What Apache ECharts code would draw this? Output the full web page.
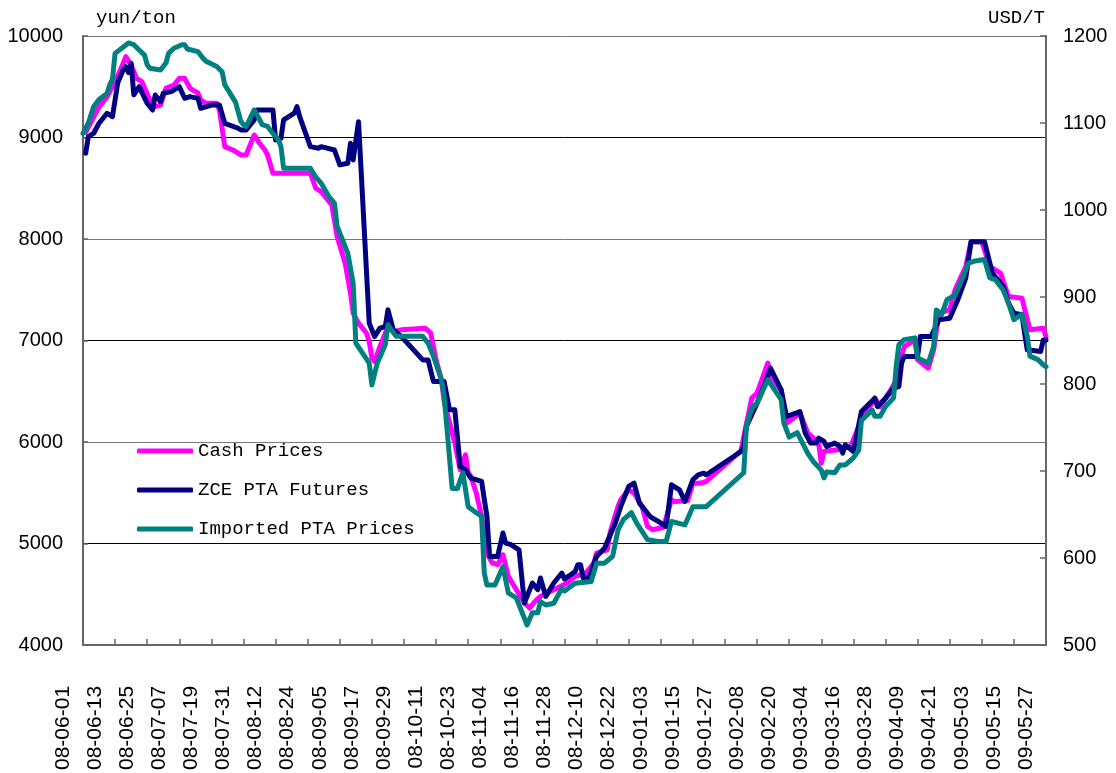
<!DOCTYPE html>
<html>
<head>
<meta charset="utf-8">
<title>PTA prices</title>
<script src="https://cdn.jsdelivr.net/npm/echarts@6/dist/echarts.min.js"></script>
<style>
  html, body { margin: 0; padding: 0; background: #fff; }
  #main { width: 1116px; height: 773px; }
</style>
</head>
<body>
<div id="main"></div>
<script>
// PTA cash / futures / imported prices, 2008-06 .. 2009-05
var dom = document.getElementById("main");
var myChart = echarts.init(dom);

// every calendar day on the axis, labelled yy-mm-dd
var firstDay = Date.UTC(2008, 5, 1);
var dayCount = 361;
var categories = [];
for (var i = 0; i < dayCount; i++) {
    var t = new Date(firstDay + i * 86400000);
    var mm = ('0' + (t.getUTCMonth() + 1)).slice(-2);
    var dd = ('0' + t.getUTCDate()).slice(-2);
    categories.push(String(t.getUTCFullYear()).slice(-2) + '-' + mm + '-' + dd);
}

var seriesNames = ['Cash Prices', 'ZCE PTA Futures', 'Imported PTA Prices'];

// yuan/ton
var cashPrices = [
    ['08-06-02', 9050], ['08-06-05', 9200], ['08-06-07', 9300], ['08-06-10', 9400],
    ['08-06-13', 9550], ['08-06-16', 9730], ['08-06-17', 9796], ['08-06-19', 9714],
    ['08-06-21', 9583], ['08-06-23', 9550], ['08-06-26', 9370], ['08-06-28', 9304],
    ['08-06-30', 9320], ['08-07-02', 9485], ['08-07-05', 9517], ['08-07-07', 9583],
    ['08-07-09', 9583], ['08-07-11', 9485], ['08-07-14', 9436], ['08-07-15', 9370],
    ['08-07-17', 9337], ['08-07-21', 9337], ['08-07-22', 9271], ['08-07-24', 8910],
    ['08-07-27', 8877], ['08-07-30', 8828], ['08-08-01', 8828], ['08-08-04', 9025],
    ['08-08-06', 8943], ['08-08-08', 8877], ['08-08-09', 8828], ['08-08-11', 8648],
    ['08-08-25', 8648], ['08-08-27', 8500], ['08-08-29', 8467], ['08-09-02', 8336],
    ['08-09-04', 8024], ['08-09-07', 7762], ['08-09-09', 7466], ['08-09-10', 7269],
    ['08-09-12', 7171], ['08-09-15', 7072], ['08-09-16', 6990], ['08-09-17', 6826],
    ['08-09-18', 6793], ['08-09-20', 6940], ['08-09-23', 7137], ['08-09-25', 7088],
    ['08-09-28', 7105], ['08-10-07', 7121], ['08-10-09', 7072], ['08-10-11', 6809],
    ['08-10-13', 6612], ['08-10-14', 6400], ['08-10-18', 5989], ['08-10-20', 5726],
    ['08-10-22', 5874], ['08-10-23', 5694], ['08-10-24', 5660], ['08-10-26', 5497],
    ['08-10-28', 5266], ['08-10-30', 4906], ['08-11-01', 4808], ['08-11-03', 4791],
    ['08-11-05', 4889], ['08-11-07', 4676], ['08-11-10', 4545], ['08-11-13', 4414],
    ['08-11-15', 4364], ['08-11-17', 4430], ['08-11-19', 4479], ['08-11-24', 4545],
    ['08-11-29', 4611], ['08-12-02', 4676], ['08-12-04', 4692], ['08-12-06', 4709],
    ['08-12-09', 4808], ['08-12-10', 4906], ['08-12-14', 4938], ['08-12-15', 5103],
    ['08-12-18', 5365], ['08-12-19', 5431], ['08-12-22', 5529], ['08-12-24', 5497],
    ['08-12-27', 5365], ['08-12-29', 5168], ['08-12-31', 5135], ['09-01-04', 5160],
    ['09-01-07', 5431], ['09-01-08', 5414], ['09-01-13', 5420], ['09-01-15', 5590],
    ['09-01-18', 5595], ['09-01-20', 5611], ['09-02-02', 5915], ['09-02-04', 6180],
    ['09-02-06', 6432], ['09-02-08', 6481], ['09-02-12', 6777], ['09-02-14', 6612],
    ['09-02-17', 6514], ['09-02-18', 6317], ['09-02-19', 6186], ['09-02-24', 6284],
    ['09-02-27', 6087], ['09-03-03', 5989], ['09-03-04', 5792], ['09-03-05', 5906],
    ['09-03-10', 5923], ['09-03-15', 5956], ['09-03-16', 6022], ['09-03-19', 6218],
    ['09-03-23', 6383], ['09-03-24', 6432], ['09-03-26', 6349], ['09-03-30', 6514],
    ['09-04-01', 6612], ['09-04-03', 6842], ['09-04-04', 6940], ['09-04-08', 7006],
    ['09-04-09', 6809], ['09-04-13', 6727], ['09-04-15', 6908], ['09-04-17', 7269],
    ['09-04-21', 7302], ['09-04-23', 7499], ['09-04-27', 7728], ['09-04-29', 7974],
    ['09-05-03', 7974], ['09-05-06', 7728], ['09-05-10', 7663], ['09-05-13', 7433],
    ['09-05-18', 7417], ['09-05-21', 7105], ['09-05-26', 7121], ['09-05-27', 7039]
];

// yuan/ton
var zceFutures = [
    ['08-06-02', 8845], ['08-06-03', 9008], ['08-06-05', 9042], ['08-06-07', 9140],
    ['08-06-10', 9239], ['08-06-12', 9205], ['08-06-13', 9370], ['08-06-14', 9540],
    ['08-06-16', 9665], ['08-06-17', 9698], ['08-06-18', 9640], ['08-06-19', 9731],
    ['08-06-20', 9420], ['08-06-22', 9500], ['08-06-25', 9337], ['08-06-27', 9271],
    ['08-06-28', 9419], ['08-06-30', 9353], ['08-07-01', 9436], ['08-07-04', 9452],
    ['08-07-07', 9501], ['08-07-09', 9386], ['08-07-11', 9403], ['08-07-14', 9386],
    ['08-07-15', 9288], ['08-07-19', 9320], ['08-07-22', 9320], ['08-07-24', 9140],
    ['08-07-29', 9091], ['08-07-30', 9074], ['08-08-01', 9074], ['08-08-04', 9173],
    ['08-08-05', 9271], ['08-08-11', 9271], ['08-08-12', 8976], ['08-08-14', 8992],
    ['08-08-15', 9173], ['08-08-19', 9239], ['08-08-20', 9304], ['08-08-21', 9205],
    ['08-08-25', 8910], ['08-08-28', 8894], ['08-08-29', 8910], ['08-09-03', 8877],
    ['08-09-05', 8730], ['08-09-08', 8746], ['08-09-09', 8943], ['08-09-10', 8779],
    ['08-09-12', 9156], ['08-09-16', 7171], ['08-09-18', 7039], ['08-09-20', 7121],
    ['08-09-22', 7137], ['08-09-23', 7302], ['08-09-25', 7105], ['08-09-28', 7039],
    ['08-10-06', 6809], ['08-10-08', 6809], ['08-10-10', 6596], ['08-10-14', 6596],
    ['08-10-16', 6317], ['08-10-18', 6317], ['08-10-20', 5759], ['08-10-22', 5726],
    ['08-10-24', 5644], ['08-10-28', 5611], ['08-10-30', 5266], ['08-10-31', 4873],
    ['08-11-03', 4873], ['08-11-05', 5103], ['08-11-06', 5004], ['08-11-08', 4988],
    ['08-11-11', 4938], ['08-11-13', 4414], ['08-11-16', 4611], ['08-11-18', 4545],
    ['08-11-19', 4660], ['08-11-21', 4479], ['08-11-24', 4611], ['08-11-27', 4709],
    ['08-11-28', 4650], ['08-12-02', 4725], ['08-12-03', 4791], ['08-12-04', 4791],
    ['08-12-05', 4660], ['08-12-07', 4660], ['08-12-10', 4873], ['08-12-13', 4955],
    ['08-12-17', 5201], ['08-12-19', 5365], ['08-12-22', 5562], ['08-12-24', 5595],
    ['08-12-26', 5398], ['08-12-30', 5266], ['09-01-02', 5217], ['09-01-05', 5168],
    ['09-01-07', 5578], ['09-01-10', 5529], ['09-01-12', 5414], ['09-01-15', 5630],
    ['09-01-17', 5677], ['09-01-19', 5693], ['09-01-20', 5677], ['09-02-02', 5906],
    ['09-02-03', 5956], ['09-02-04', 6153], ['09-02-08', 6383], ['09-02-11', 6580],
    ['09-02-13', 6728], ['09-02-17', 6514], ['09-02-19', 6251], ['09-02-24', 6300],
    ['09-02-26', 6087], ['09-02-28', 5989], ['09-03-02', 5989], ['09-03-03', 6038],
    ['09-03-05', 6005], ['09-03-06', 5956], ['09-03-09', 5989], ['09-03-11', 5956],
    ['09-03-12', 5891], ['09-03-13', 5972], ['09-03-16', 5906], ['09-03-19', 6300],
    ['09-03-24', 6432], ['09-03-25', 6349], ['09-03-28', 6432], ['09-03-31', 6531],
    ['09-04-02', 6546], ['09-04-03', 6777], ['09-04-04', 6842], ['09-04-09', 6842],
    ['09-04-10', 7039], ['09-04-14', 7039], ['09-04-17', 7203], ['09-04-21', 7220],
    ['09-04-24', 7400], ['09-04-27', 7614], ['09-04-29', 7974], ['09-05-04', 7974],
    ['09-05-06', 7762], ['09-05-07', 7663], ['09-05-11', 7531], ['09-05-13', 7368],
    ['09-05-15', 7269], ['09-05-18', 7253], ['09-05-19', 7072], ['09-05-20', 6908],
    ['09-05-25', 6891], ['09-05-26', 7006], ['09-05-27', 7006]
];

// USD/T (right axis)
var importedPrices = [
    ['08-06-01', 1088], ['08-06-03', 1100], ['08-06-05', 1119], ['08-06-07', 1127],
    ['08-06-10', 1134], ['08-06-11', 1144], ['08-06-12', 1150], ['08-06-13', 1180],
    ['08-06-18', 1192], ['08-06-20', 1190], ['08-06-22', 1184], ['08-06-24', 1178],
    ['08-06-25', 1167], ['08-06-26', 1163], ['08-06-30', 1161], ['08-07-02', 1169],
    ['08-07-03', 1180], ['08-07-05', 1186], ['08-07-08', 1190], ['08-07-09', 1190],
    ['08-07-10', 1185], ['08-07-14', 1182], ['08-07-16', 1174], ['08-07-17', 1171],
    ['08-07-21', 1165], ['08-07-23', 1159], ['08-07-24', 1144], ['08-07-26', 1134],
    ['08-07-28', 1124], ['08-07-30', 1102], ['08-07-31', 1098], ['08-08-01', 1096],
    ['08-08-04', 1115], ['08-08-06', 1104], ['08-08-07', 1098], ['08-08-09', 1096],
    ['08-08-11', 1088], ['08-08-13', 1081], ['08-08-14', 1073], ['08-08-15', 1048],
    ['08-08-25', 1048], ['08-08-27', 1038], ['08-08-29', 1031], ['08-09-01', 1015],
    ['08-09-03', 1008], ['08-09-04', 981], ['08-09-06', 966], ['08-09-08', 950],
    ['08-09-10', 916], ['08-09-11', 847], ['08-09-16', 824], ['08-09-17', 799],
    ['08-09-19', 824], ['08-09-22', 845], ['08-09-23', 868], ['08-09-26', 855],
    ['08-10-06', 855], ['08-10-08', 847], ['08-10-10', 832], ['08-10-13', 805],
    ['08-10-14', 786], ['08-10-15', 751], ['08-10-17', 680], ['08-10-19', 680],
    ['08-10-21', 698], ['08-10-23', 659], ['08-10-26', 652], ['08-10-28', 648],
    ['08-10-29', 583], ['08-10-30', 569], ['08-11-02', 569], ['08-11-05', 590],
    ['08-11-07', 560], ['08-11-10', 554], ['08-11-14', 523], ['08-11-16', 537],
    ['08-11-18', 537], ['08-11-19', 550], ['08-11-21', 546], ['08-11-24', 548],
    ['08-11-27', 565], ['08-11-28', 562], ['08-12-02', 571], ['08-12-08', 573],
    ['08-12-10', 594], ['08-12-13', 594], ['08-12-16', 602], ['08-12-18', 632],
    ['08-12-20', 644], ['08-12-23', 652], ['08-12-25', 640], ['08-12-29', 621],
    ['09-01-02', 619], ['09-01-05', 619], ['09-01-07', 642], ['09-01-12', 638],
    ['09-01-15', 659], ['09-01-20', 659], ['09-02-03', 698], ['09-02-04', 751],
    ['09-02-06', 772], ['09-02-08', 778], ['09-02-12', 805], ['09-02-17', 782],
    ['09-02-18', 755], ['09-02-20', 739], ['09-02-23', 744], ['09-02-24', 738],
    ['09-02-27', 720], ['09-03-01', 711], ['09-03-04', 701], ['09-03-05', 692],
    ['09-03-06', 699], ['09-03-09', 698], ['09-03-11', 707], ['09-03-13', 707],
    ['09-03-16', 715], ['09-03-18', 724], ['09-03-19', 758], ['09-03-23', 770],
    ['09-03-24', 763], ['09-03-26', 763], ['09-03-28', 774], ['09-03-31', 784],
    ['09-04-01', 820], ['09-04-02', 845], ['09-04-04', 851], ['09-04-08', 853],
    ['09-04-09', 830], ['09-04-13', 824], ['09-04-15', 843], ['09-04-16', 885],
    ['09-04-18', 880], ['09-04-20', 897], ['09-04-23', 902], ['09-04-25', 916],
    ['09-04-28', 939], ['09-04-30', 941], ['09-05-04', 943], ['09-05-06', 922],
    ['09-05-08', 920], ['09-05-11', 908], ['09-05-13', 893], ['09-05-15', 874],
    ['09-05-18', 880], ['09-05-20', 855], ['09-05-21', 832], ['09-05-24', 828],
    ['09-05-26', 822], ['09-05-27', 820]
];

var axisFont = 'Liberation Sans, Arial, sans-serif';
var textFont = 'Liberation Mono, monospace';

function plainNumber(v) {
    return String(v);
}

function lineSeries(name, data, color, yIndex) {
    return {
        name: name,
        type: 'line',
        xAxisIndex: 0,
        yAxisIndex: yIndex,
        data: data,
        showSymbol: false,
        symbol: 'none',
        lineStyle: { color: color, width: 5, join: 'round', cap: 'round' },
        itemStyle: { color: color }
    };
}

var option = {
    backgroundColor: '#ffffff',
    animation: false,
    title: [
        { text: 'yun/ton', left: 96, top: 8, padding: 0,
          textStyle: { fontFamily: textFont, fontSize: 19, fontWeight: 'normal', color: '#000' } },
        { text: 'USD/T', right: 71, top: 8, padding: 0,
          textStyle: { fontFamily: textFont, fontSize: 19, fontWeight: 'normal', color: '#000' } }
    ],
    legend: {
        orient: 'vertical',
        left: 137,
        top: 441,
        padding: 0,
        itemWidth: 56,
        itemHeight: 5,
        itemGap: 19,
        icon: 'roundRect',
        data: seriesNames,
        textStyle: { fontFamily: textFont, fontSize: 19, lineHeight: 20, color: '#000' }
    },
    grid: [
        { left: 83, right: 70, top: 36, bottom: 128 },
        // same width, shifted left: carries only the date labels
        { left: 63, right: 90, top: 36, bottom: 128 }
    ],
    xAxis: [
        {
            type: 'category',
            gridIndex: 0,
            data: categories,
            boundaryGap: false,
            axisLine: { lineStyle: { color: '#666', width: 2 } },
            axisTick: { inside: true, length: 6, interval: 11, lineStyle: { color: '#666', width: 1.5 } },
            axisLabel: { show: false },
            splitLine: { show: false }
        },
        {
            type: 'category',
            gridIndex: 1,
            data: categories,
            boundaryGap: false,
            axisLine: { show: false },
            axisTick: { show: false },
            axisLabel: {
                interval: 11,
                rotate: 90,
                margin: 47,
                fontFamily: axisFont,
                fontSize: 21,
                color: '#000'
            },
            splitLine: { show: false }
        }
    ],
    yAxis: [
        {
            type: 'value',
            gridIndex: 0,
            min: 4000,
            max: 10000,
            interval: 1000,
            position: 'left',
            axisLine: { show: true, lineStyle: { color: '#666', width: 2 } },
            axisTick: { show: true, inside: true, length: 5, lineStyle: { color: '#666', width: 1.5 } },
            axisLabel: { margin: 20, fontFamily: axisFont, fontSize: 20, color: '#000', formatter: plainNumber },
            splitLine: { show: true, lineStyle: { color: ['#7a7a7a', '#000000'], width: 1 } }
        },
        {
            type: 'value',
            gridIndex: 0,
            min: 500,
            max: 1200,
            interval: 100,
            position: 'right',
            axisLine: { show: true, lineStyle: { color: '#666', width: 2 } },
            axisTick: { show: true, inside: true, length: 6, lineStyle: { color: '#666', width: 1.5 } },
            axisLabel: { margin: 17, fontFamily: axisFont, fontSize: 20, color: '#000', formatter: plainNumber },
            splitLine: { show: false }
        },
        {
            type: 'value',
            gridIndex: 1,
            show: false
        }
    ],
    series: [
        lineSeries(seriesNames[0], cashPrices, '#ff00ff', 0),
        lineSeries(seriesNames[1], zceFutures, '#000080', 0),
        lineSeries(seriesNames[2], importedPrices, '#008080', 1)
    ]
};

if (option && typeof option === "object") {
    myChart.setOption(option, true);
}
</script>
</body>
</html>
